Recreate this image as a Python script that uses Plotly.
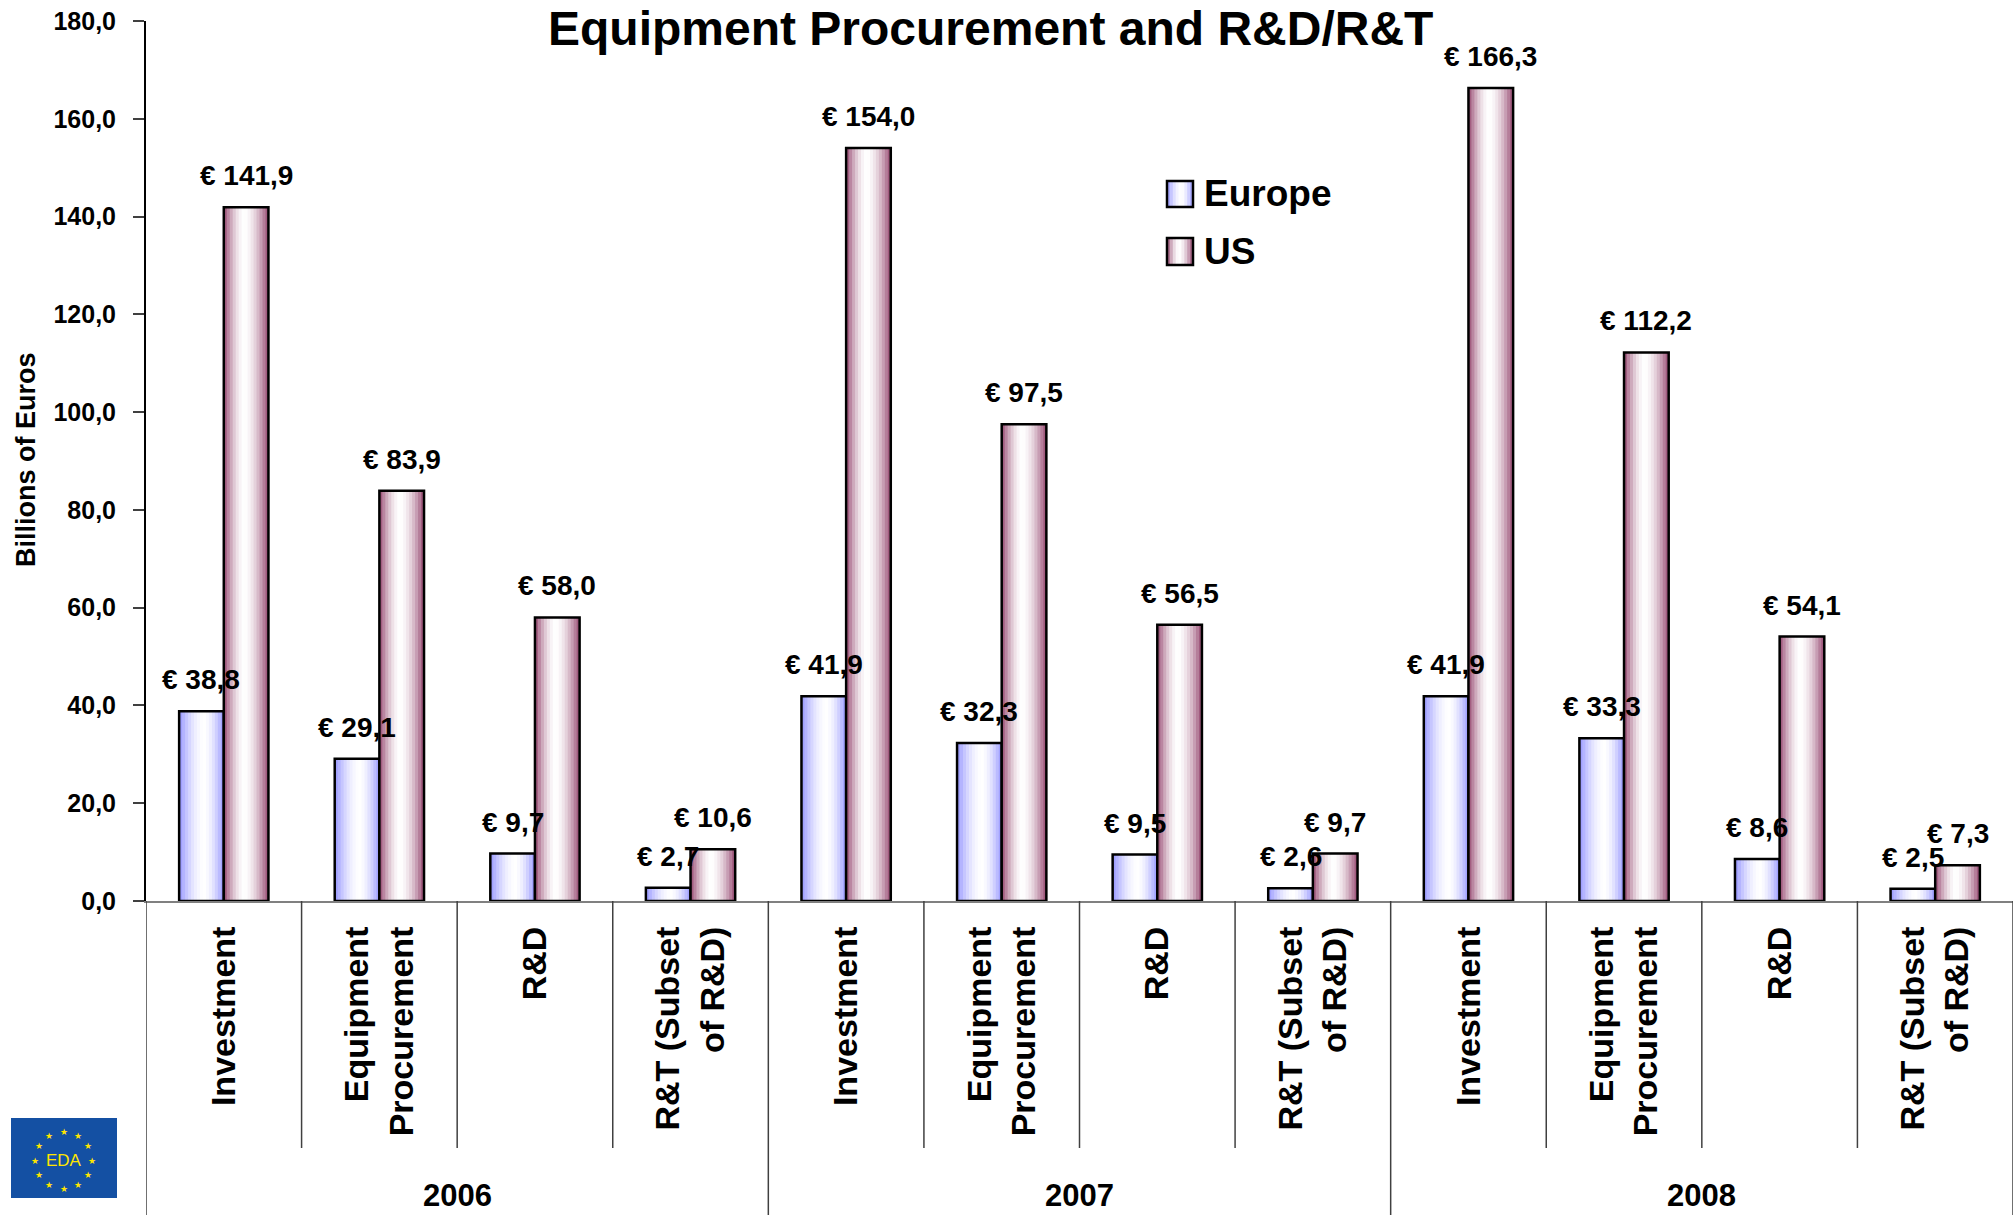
import math
import plotly.graph_objects as go

# ---------------- data ----------------
years = ["2006", "2007", "2008"]
measures = ["Investment", "Equipment<br>Procurement", "R&D", "R&T (Subset<br>of R&D)"]
series_names = ["Europe", "US"]
europe = [38.8, 29.1, 9.7, 2.7, 41.9, 32.3, 9.5, 2.6, 41.9, 33.3, 8.6, 2.5]
us = [141.9, 83.9, 58.0, 10.6, 154.0, 97.5, 56.5, 9.7, 166.3, 112.2, 54.1, 7.3]
y_ticks = [0, 20, 40, 60, 80, 100, 120, 140, 160, 180]
title_text = "Equipment Procurement and R&D/R&T"
y_title = "Billions of Euros"

# ---------------- layout constants ----------------
W, H = 2013, 1215
L, R, T, B = 146, 0, 21, 314
PW, PH = W - L - R, H - T - B
FONT = "Arial, 'Liberation Sans', sans-serif"


def px_x(px):
    return (px - L) / PW


def px_y(py):
    return (H - B - py) / PH


x_pos = list(range(len(europe)))
tick_text = measures * len(years)

BAR_W = 0.287
styles = {
    "Europe": dict(edge=(150, 150, 255), center=0.55, offset=-BAR_W),
    "US": dict(edge=(150, 72, 112), center=0.46, offset=0.0),
}
N_STRIPS = 15


def grad_color(edge, c, t):
    d = (c - t) / c if t < c else (t - c) / (1 - c)
    d = min(1.0, max(0.0, d))
    mix = 1 - d ** 1.7
    r, g, b = [round(e + (255 - e) * mix) for e in edge]
    return f"rgb({r},{g},{b})"


fig = go.Figure()
values_by_series = {"Europe": europe, "US": us}

for name in series_names:
    st = styles[name]
    vals = values_by_series[name]
    dw = BAR_W / N_STRIPS
    for k in range(N_STRIPS):
        t = (k + 0.5) / N_STRIPS
        w = dw * 1.6 if k < N_STRIPS - 1 else dw
        fig.add_trace(go.Bar(
            x=x_pos, y=vals, width=w, offset=st["offset"] + k * dw,
            marker=dict(color=grad_color(st["edge"], st["center"], t), line=dict(width=0)),
            showlegend=False, hoverinfo="skip", name=name,
        ))
    fig.add_trace(go.Bar(
        x=x_pos, y=vals, width=BAR_W, offset=st["offset"], name=name,
        marker=dict(color="rgba(0,0,0,0)", line=dict(color="black", width=2.5)),
        showlegend=False,
    ))

annotations = []
for name in series_names:
    st = styles[name]
    for xi, v in zip(x_pos, values_by_series[name]):
        annotations.append(dict(
            x=xi + st["offset"] + BAR_W / 2, y=v, xref="x", yref="y",
            text=("€ %.1f" % v).replace(".", ","), showarrow=False,
            yanchor="bottom", xanchor="center", yshift=14,
            font=dict(family=FONT, size=28, color="black", weight="bold"),
        ))

# year labels
for g, yr in enumerate(years):
    annotations.append(dict(
        x=g * len(measures) + (len(measures) - 1) / 2, y=px_y(1195), xref="x", yref="paper",
        text=yr, showarrow=False, xanchor="center", yanchor="middle",
        font=dict(family=FONT, size=31, color="black", weight="bold"),
    ))

# title (kept fully inside the canvas, clear of the top data label)
annotations.append(dict(
    x=px_x(990), y=px_y(0), xref="paper", yref="paper", text=title_text,
    showarrow=False, xanchor="center", yanchor="top",
    font=dict(family=FONT, size=48, color="black", weight="bold"),
))
# y axis title
annotations.append(dict(
    x=px_x(26), y=px_y(460), xref="paper", yref="paper", text=y_title,
    showarrow=False, xanchor="center", yanchor="middle", textangle=-90,
    font=dict(family=FONT, size=27, color="black", weight="bold"),
))

shapes = []
# category separators
n = len(x_pos)
for j in range(n + 1):
    bottom = 1215 if j % len(measures) == 0 else 1148
    shapes.append(dict(type="line", xref="x", yref="paper", x0=j - 0.5, x1=j - 0.5,
                       y0=0, y1=px_y(bottom), line=dict(color="#404040", width=1.5)))

# custom legend
leg = {"Europe": (181, 207), "US": (238, 265)}
sx0, sx1 = 1167, 1193
for name in series_names:
    st = styles[name]
    y0, y1 = leg[name]
    ns = 9
    for k in range(ns):
        t = (k + 0.5) / ns
        a = sx0 + (sx1 - sx0) * k / ns
        b = sx0 + (sx1 - sx0) * (k + 1.4) / ns if k < ns - 1 else sx1
        shapes.append(dict(type="rect", xref="paper", yref="paper",
                           x0=px_x(a), x1=px_x(b), y0=px_y(y1), y1=px_y(y0),
                           fillcolor=grad_color(st["edge"], st["center"], t), line=dict(width=0)))
    shapes.append(dict(type="rect", xref="paper", yref="paper",
                       x0=px_x(sx0), x1=px_x(sx1), y0=px_y(y1), y1=px_y(y0),
                       fillcolor="rgba(0,0,0,0)", line=dict(color="black", width=2.5)))
    annotations.append(dict(
        x=px_x(1202), y=px_y((y0 + y1) / 2), xref="paper", yref="paper", text=name,
        showarrow=False, xanchor="left", yanchor="middle",
        font=dict(family=FONT, size=37, color="black", weight="bold"),
    ))

# EDA logo
lx0, lx1, ly0, ly1 = 11, 117, 1118, 1198
shapes.append(dict(type="rect", xref="paper", yref="paper",
                   x0=px_x(lx0), x1=px_x(lx1), y0=px_y(ly1), y1=px_y(ly0),
                   fillcolor="#1450A3", line=dict(width=0)))
cx, cy, rad = 63.5, 1160.5, 28.5
for k in range(12):
    ang = math.radians(90 - 30 * k)
    annotations.append(dict(
        x=px_x(cx + rad * math.cos(ang)), y=px_y(cy - rad * math.sin(ang)),
        xref="paper", yref="paper", text="★", showarrow=False,
        xanchor="center", yanchor="middle",
        font=dict(family="DejaVu Sans", size=9, color="#FFE600"),
    ))
annotations.append(dict(
    x=px_x(cx), y=px_y(cy), xref="paper", yref="paper", text="EDA", showarrow=False,
    xanchor="center", yanchor="middle",
    font=dict(family=FONT, size=17, color="#FFE600"),
))

fig.update_layout(
    width=W, height=H, autosize=False,
    margin=dict(l=L, r=R, t=T, b=B, pad=0),
    paper_bgcolor="white", plot_bgcolor="white",
    barmode="overlay", showlegend=False,
    separators=", ",
    annotations=annotations, shapes=shapes,
    font=dict(family=FONT, color="black"),
)
fig.update_xaxes(
    range=[-0.5, n - 0.5], tickmode="array", tickvals=x_pos, ticktext=tick_text,
    tickangle=-90, ticks="", showline=True, linecolor="#808080", linewidth=2,
    showgrid=False, zeroline=False, ticklabelstandoff=10,
    tickfont=dict(family=FONT, size=34, color="black", weight="bold"),
)
fig.update_yaxes(
    range=[0, 180], tickmode="array", tickvals=y_ticks, tickformat=".1f",
    ticks="outside", ticklen=11, tickcolor="#404040", tickwidth=1.5,
    showline=True, linecolor="black", linewidth=2, showgrid=False, zeroline=False,
    ticklabelstandoff=12,
    tickfont=dict(family=FONT, size=25, color="black", weight="bold"),
)

fig.write_html(
    "out.html",
    config={"displayModeBar": False},
    post_script="document.body.style.margin='0';document.body.style.overflow='hidden';",
)
